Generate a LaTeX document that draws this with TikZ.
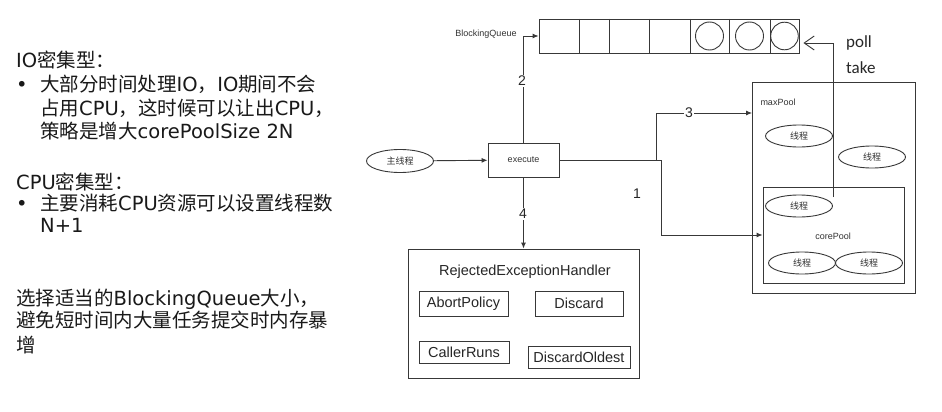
\documentclass[tikz,border=0pt]{standalone}
\usepackage{fontspec}
\setmainfont{Liberation Sans}
\newfontfamily\djv{DejaVu Sans}
\newfontfamily\cjk{Noto Sans CJK SC}
\newfontfamily\cali{Carlito}
\usetikzlibrary{arrows.meta,shapes.geometric}
\newcommand\zh[1]{{\cjk #1}}
\begin{document}
\begin{tikzpicture}[x=1pt,y=-1pt,
  ln/.style={draw=black!78, line width=0.9pt},
  arr/.style={ln, -{Latex[length=6pt,width=5pt]}},
  box/.style={ln, rectangle, inner sep=0pt},
  thr/.style={ellipse, ln, minimum width=67pt, minimum height=22pt, inner sep=0pt, font=\cjk\fontsize{9}{10}\selectfont, text=black!80},
  small/.style={font=\fontsize{9}{10}\selectfont, text=black!80, inner sep=0pt},
  num/.style={font=\fontsize{14}{16}\selectfont, fill=white, inner sep=1pt, text=black!85},
  pol/.style={box, font=\fontsize{14.5}{16}\selectfont, text=black!85},
  lt/.style={anchor=base west, inner sep=0pt, font=\djv\fontsize{19.5}{23}\selectfont, text=black!90},
  pt/.style={anchor=west, inner sep=0pt, font=\cali\fontsize{17}{20}\selectfont, text=black!85},
]
\fill[white] (0,0) rectangle (942,412);
\useasboundingbox (0,0) rectangle (942,412);

% left text
\node[lt] (l1) at (16,67) {IO\zh{密集型：}};
\node[lt] (b1) at (16,92) {•};
\node[lt] (l2) at (40,92) {\zh{大部分时间处理}IO\zh{，}IO\zh{期间不会}};
\node[lt] (l3) at (40,115) {\zh{占用}CPU\zh{，这时候可以让出}CPU\zh{，}};
\node[lt] (l4) at (40,138) {\zh{策略是增大}corePoolSize 2N};
\node[lt] (l5) at (16,189) {CPU\zh{密集型：}};
\node[lt] (b2) at (16,210) {•};
\node[lt] (l6) at (40,210) {\zh{主要消耗}CPU\zh{资源可以设置线程数}};
\node[lt] (l7) at (40,232) {N+1};
\node[lt] (l8) at (16,305) {\zh{选择适当的}BlockingQueue\zh{大小，}};
\node[lt] (l9) at (16,327) {\zh{避免短时间内大量任务提交时内存暴}};
\node[lt] (l10) at (16,352) {\zh{增}};

% queue
\node[box, minimum width=260pt, minimum height=34pt] (queue) at (669,36) {};
\foreach \x in {579,609,649,690,729,770}
  \draw[ln] (\x,19) -- (\x,53);
\draw[ln] (709.5,36) circle[radius=14];
\draw[ln] (749.5,36) circle[radius=14];
\draw[ln] (784.5,36) circle[radius=13.8];
\node[small] (bqlabel) at (486,34) {BlockingQueue};

% main nodes
\node[thr, minimum width=67pt, minimum height=23pt] (main) at (400,161) {主线程};
\node[box, minimum width=71pt, minimum height=34pt, small] (exec) at (523.5,160) {execute};

% pools
\node[box, minimum width=162.5pt, minimum height=211pt] (maxpool) at (833.75,187.5) {};
\node[small] (maxlabel) at (778,102) {maxPool};
\node[box, minimum width=141pt, minimum height=96pt] (corepool) at (833.5,235) {};
\node[small] (corelabel) at (833,236) {corePool};
\node[thr] (t1) at (799,136) {线程};
\node[thr] (t2) at (872,157) {线程};
\node[thr] (t3) at (799,206) {线程};
\node[thr] (t4) at (802,263) {线程};
\node[thr] (t5) at (869,263) {线程};

% rejected handler
\node[box, minimum width=231pt, minimum height=129pt] (rej) at (523.5,313.5) {};
\node[font=\fontsize{14.5}{16}\selectfont, text=black!85, inner sep=0pt] (rejt) at (525,272) {RejectedExceptionHandler};
\node[pol, minimum width=89pt, minimum height=25pt] (abort) at (463.5,303.5) {AbortPolicy};
\node[pol, minimum width=88pt, minimum height=25pt] (discard) at (579,303.5) {Discard};
\node[pol, minimum width=90pt, minimum height=21.5pt] (caller) at (464,352.5) {CallerRuns};
\node[pol, minimum width=102pt, minimum height=22pt] (oldest) at (579,357) {DiscardOldest};

% connectors
\draw[arr] (main) -- (exec);
\draw[arr] (exec.north) |- (queue.west);
\node[num] (n2) at (522,81) {2};
\draw[arr] (exec.east) -| (656,113) -- (maxpool.west |- 0,113);
\node[num] (n3) at (689,113) {3};
\draw[arr] (exec.east) -- (661,160) |- (corepool.west);
\node[num, fill=none] (n1) at (637,194) {1};
\draw[arr] (exec.south) -- (rej.north);
\node[num] (n4) at (523,214) {4};

\coordinate (pollstart) at (833,197);
\draw[ln, -{Straight Barb[length=10pt,width=14pt]}] (pollstart) |- ([xshift=4pt]queue.east |- 0,43);
\node[pt] (poll) at (846,43) {poll};
\node[pt] (take) at (846,68) {take};
\end{tikzpicture}
\end{document}
